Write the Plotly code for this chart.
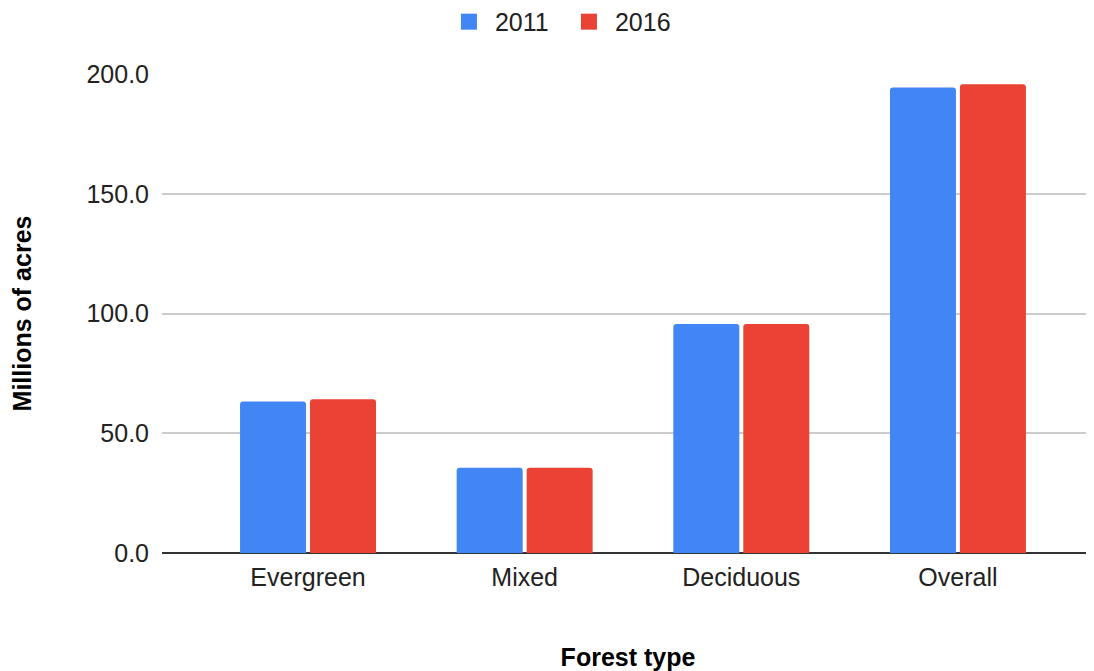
import plotly.graph_objects as go

categories = ["Evergreen", "Mixed", "Deciduous", "Overall"]
values_2011 = [63.3, 35.6, 95.6, 194.4]
values_2016 = [64.2, 35.6, 95.6, 195.7]
series_names = ["2011", "2016"]
series_colors = ["#4285F4", "#EA4335"]
y_ticks = [0, 50, 100, 150, 200]
y_tick_labels = ["0.0", "50.0", "100.0", "150.0", "200.0"]

FONT = "Liberation Sans, Arial, sans-serif"
FS = 25

fig = go.Figure()
for name, vals, col in zip(series_names, [values_2011, values_2016], series_colors):
    fig.add_trace(go.Bar(name=name, x=categories, y=vals, showlegend=False,
                         marker=dict(color=col, line=dict(width=0))))
# legend entries with larger square swatches
for name, col in zip(series_names, series_colors):
    fig.add_trace(go.Scatter(name=name, x=[None], y=[None], mode="markers",
                             marker=dict(symbol="square", size=16, color=col,
                                         line=dict(width=0)),
                             showlegend=True, hoverinfo="skip"))

fig.update_layout(
    width=1086, height=663,
    margin=dict(l=154, r=0, t=66, b=118),
    paper_bgcolor="white", plot_bgcolor="white",
    barmode="group", bargap=0.354, bargroupgap=0.057, barcornerradius=3,
    font=dict(family=FONT, size=FS, color="#222222"),
    showlegend=True,
    legend=dict(orientation="h", xref="container", yref="container",
                x=0.511, xanchor="center", y=0.979, yanchor="middle",
                font=dict(size=FS, color="#222222"), itemwidth=42,
                itemsizing="trace", entrywidth=63, entrywidthmode="pixels"),
    xaxis=dict(
        type="category", range=[-0.674, 3.628],
        showgrid=False, showline=False, zeroline=False,
        ticks="", ticklabelstandoff=7, tickfont=dict(size=FS, color="#222222"),
        title=dict(text="<b>Forest type</b>", font=dict(size=FS, color="#000000"), standoff=59),
    ),
    yaxis=dict(
        range=[0, 200], tickvals=y_ticks, ticktext=y_tick_labels,
        showgrid=True, gridcolor="#cccccc", gridwidth=1.5,
        zeroline=True, zerolinecolor="#333333", zerolinewidth=2,
        showline=False, ticks="", ticklabelstandoff=12,
        tickfont=dict(size=FS, color="#222222"),
        title=dict(text="<b>Millions of acres</b>", font=dict(size=FS, color="#000000"), standoff=61),
    ),
)

fig.write_html("out.html")
